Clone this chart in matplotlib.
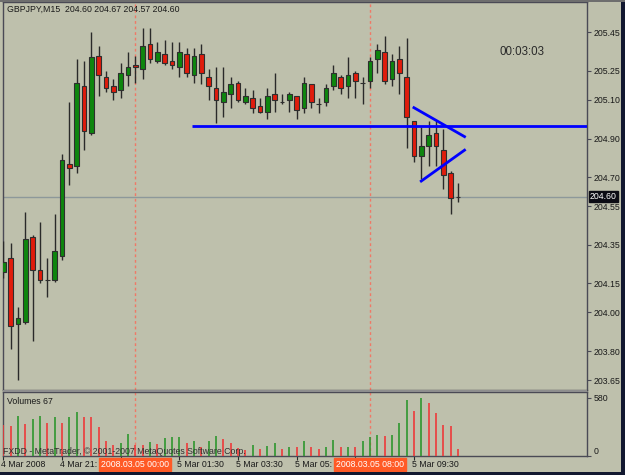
import matplotlib
matplotlib.use('Agg')
import matplotlib.pyplot as plt
from matplotlib.patches import Rectangle

W, H = 625, 475

# --- data ---------------------------------------------------------------
header = 'GBPJPY,M15  204.60 204.67 204.57 204.60'
timer_text = '00:03:03'

opens = [204.21, 204.28, 203.94, 203.95, 204.39, 204.22, 204.17, 204.17, 204.29, 204.77,
         204.76, 205.17, 204.93, 205.33, 205.22, 205.17, 205.15, 205.23, 205.28, 205.26,
         205.39, 205.30, 205.34, 205.30, 205.27, 205.34, 205.23, 205.34, 205.22, 205.16,
         205.09, 205.13, 205.19, 205.09, 205.11, 205.07, 205.04, 205.13, 205.09, 205.10,
         205.12, 205.06, 205.18, 205.08, 205.09, 205.17, 205.22, 205.17, 205.24, 205.19,
         205.20, 205.31, 205.35, 205.21, 205.31, 205.22, 204.99, 204.81, 204.86, 204.93,
         204.84, 204.72, 204.60]
highs = [204.37, 204.36, 204.03, 204.52, 204.40, 204.47, 204.28, 204.51, 204.82, 205.09,
         205.31, 205.30, 205.45, 205.38, 205.25, 205.21, 205.29, 205.35, 205.33, 205.47,
         205.47, 205.40, 205.41, 205.40, 205.40, 205.37, 205.37, 205.39, 205.26, 205.27,
         205.27, 205.22, 205.20, 205.16, 205.15, 205.11, 205.16, 205.24, 205.13, 205.14,
         205.12, 205.22, 205.18, 205.11, 205.18, 205.28, 205.23, 205.32, 205.25, 205.22,
         205.32, 205.39, 205.43, 205.34, 205.38, 205.42, 204.99, 204.96, 204.99, 204.99,
         204.95, 204.73, 204.67]
lows = [204.18, 203.81, 203.65, 203.94, 203.85, 204.15, 204.08, 204.16, 204.27, 204.66,
        204.72, 204.84, 204.92, 205.12, 205.14, 205.10, 205.11, 205.17, 205.19, 205.21,
        205.29, 205.29, 205.28, 205.26, 205.22, 205.22, 205.19, 205.18, 205.10, 204.98,
        205.01, 205.06, 205.09, 205.08, 205.03, 205.03, 205.00, 205.04, 205.08, 205.04,
        205.00, 205.03, 205.06, 205.03, 205.07, 205.15, 205.13, 205.11, 205.11, 205.08,
        205.16, 205.24, 205.18, 205.17, 205.13, 204.85, 204.78, 204.69, 204.76, 204.76,
        204.64, 204.51, 204.57]
closes = [204.26, 203.93, 203.97, 204.38, 204.22, 204.17, 204.17, 204.32, 204.79, 204.75,
          205.19, 204.94, 205.32, 205.23, 205.16, 205.14, 205.24, 205.27, 205.27, 205.38,
          205.31, 205.35, 205.29, 205.28, 205.35, 205.24, 205.33, 205.24, 205.17, 205.10,
          205.14, 205.18, 205.10, 205.12, 205.06, 205.04, 205.12, 205.10, 205.09, 205.13,
          205.05, 205.19, 205.09, 205.08, 205.16, 205.24, 205.16, 205.23, 205.20, 205.19,
          205.30, 205.36, 205.20, 205.30, 205.24, 205.01, 204.81, 204.86, 204.92, 204.86,
          204.71, 204.59, 204.60]
volumes = [308, 302, 399, 315, 372, 399, 332, 389, 332, 392,
           439, 389, 388, 288, 145, 111, 124, 214, 110, 104,
           139, 118, 178, 185, 191, 124, 152, 90, 152, 197,
           163, 124, 77, 59, 111, 69, 93, 132, 69, 83,
           83, 145, 83, 69, 90, 155, 83, 90, 90, 152,
           186, 204, 197, 204, 329, 560, 449, 580, 527, 429,
           308, 296, 67]

price_ticks = [205.45, 205.25, 205.10, 204.90, 204.70, 204.55,
               204.35, 204.15, 204.00, 203.80, 203.65]
volume_ticks = [0, 580]
time_tick_bars = [0, 8, 16, 24, 32, 40, 48, 56]
# labels as they show; the ones under the highlighted boxes are cut off
time_label_bars = [0, 8, 24, 32, 40, 56]
time_labels = ['4 Mar 2008', '4 Mar 21:', '5 Mar 01:30', '5 Mar 03:30',
               '5 Mar 05:', '5 Mar 09:30']
separator_bars = [18, 50]
separator_labels = ['2008.03.05 00:00', '2008.03.05 08:00']

bid = 204.60
level_price = 204.965
level_start = 25.8
trend_upper_x, trend_upper_y = [56.0, 62.9], [205.06, 204.91]
trend_lower_x, trend_lower_y = [57.0, 62.9], [204.68, 204.84]

# --- style ----------------------------------------------------------------
BG = '#bec0ac'
BULL = '#0e860e'
BEAR = '#e01c0c'
plt.rcParams['font.family'] = ['Liberation Sans', 'DejaVu Sans']
FS = 6.3
XLIM = (-0.1, 79.6)


def box(left, top, right, bottom):
    return [left / W, 1 - bottom / H, (right - left) / W, (bottom - top) / H]


fig = plt.figure(figsize=(W / 100, H / 100), dpi=100)
fig.patch.set_facecolor(BG)

ax = fig.add_axes(box(2.5, 2, 587, 389.5))
axv = fig.add_axes(box(2.5, 392, 587, 455.7))
for a in (ax, axv):
    a.set_facecolor(BG)
    a.set_xlim(*XLIM)
    for s in a.spines.values():
        s.set_color('#4a4a55')
        s.set_linewidth(1)

idx = list(range(len(opens)))

# --- candles --------------------------------------------------------------
ax.vlines(idx, lows, highs, color='#2a2a2a', lw=1, zorder=3)
bottoms = [min(o, c) for o, c in zip(opens, closes)]
heights = [abs(c - o) for o, c in zip(opens, closes)]
cols = [BULL if c > o else BEAR for o, c in zip(opens, closes)]
ax.bar(idx, heights, bottom=bottoms, width=0.64, color=cols,
       edgecolor='#2e2e2e', linewidth=0.8, zorder=4)

ax.axhline(bid, color='#8d989a', lw=1, zorder=1)
ax.hlines(level_price, level_start, XLIM[1], color='#0000ff', lw=2, zorder=5)
ax.plot(trend_upper_x, trend_upper_y, color='#0000ff', lw=2, zorder=5)
ax.plot(trend_lower_x, trend_lower_y, color='#0000ff', lw=2, zorder=5)

for b in separator_bars:
    for a in (ax, axv):
        a.axvline(b, color='#f07866', lw=1, ls=(0, (2, 2)), zorder=2)

ax.set_ylim(203.601, 205.607)
ax.set_xticks([])
ax.yaxis.tick_right()
ax.set_yticks(price_ticks)
ax.set_yticklabels([f'{p:.2f}' for p in price_ticks])
ax.tick_params(axis='y', direction='out', length=3, width=0.8, pad=2,
               labelsize=FS, colors='#4a4a55', labelcolor='#1a1a1a')

ax.annotate(f'{bid:.2f}', xy=(1, bid), xycoords=('axes fraction', 'data'),
            xytext=(3, 0), textcoords='offset pixels', ha='left', va='center',
            color='white', fontsize=FS, annotation_clip=False, zorder=10,
            bbox=dict(boxstyle='square,pad=0.12', fc='#0c0c14', ec='#0c0c14'))

# --- volumes --------------------------------------------------------------
vcols = ['#ee3a3a'] + ['#2f962f' if volumes[i] > volumes[i - 1] else '#ee3a3a'
                       for i in range(1, len(volumes))]
axv.vlines(idx, 0, volumes, colors=vcols, lw=1.2, zorder=3)
axv.set_ylim(0, 640)
axv.yaxis.tick_right()
axv.set_yticks(volume_ticks)
axv.set_yticklabels([str(v) for v in volume_ticks])
axv.tick_params(axis='y', direction='out', length=3, width=0.8, pad=2,
                labelsize=FS, colors='#4a4a55', labelcolor='#1a1a1a')
axv.get_yticklabels()[0].set_verticalalignment('bottom')

axv.set_xticks(time_tick_bars)
axv.set_xticklabels([])
axv.tick_params(axis='x', direction='out', length=3, width=0.8, colors='#2a2a2a')
for b, lab in zip(time_label_bars, time_labels):
    axv.annotate(lab, xy=(b, 0), xycoords=('data', 'axes fraction'),
                 xytext=(-2, -8.5), textcoords='offset pixels', ha='left',
                 va='center', fontsize=FS, color='#1a1a1a', annotation_clip=False)
for b, lab in zip(separator_bars, separator_labels):
    axv.annotate(lab, xy=(b, 0), xycoords=('data', 'axes fraction'),
                 xytext=(0, -8.5), textcoords='offset pixels', ha='center',
                 va='center', fontsize=FS, color='white', annotation_clip=False,
                 zorder=10,
                 bbox=dict(boxstyle='square,pad=0.22', fc='#ff5a26', ec='#ff5a26'))

# --- texts ----------------------------------------------------------------
fig.text(7 / W, 1 - 9 / H, header, fontsize=FS, va='center', color='#1a1a1a')
fig.text(500 / W, 1 - 51.7 / H, timer_text, fontsize=8.3, va='center', color='#2a2a2a')
fig.text(7 / W, 1 - 402 / H, 'Volumes 67', fontsize=FS, va='center', color='#1a1a1a')
fig.text(3 / W, 1 - 452 / H,
         'FXDD - MetaTrader, \u00a9 2001-2007 MetaQuotes Software Corp.',
         fontsize=FS, va='center', color='#303030')

# window frame and panel separator
fig.patches.append(Rectangle((2.5 / W, 1 - 392 / H), 584.5 / W, 2.5 / H,
                             transform=fig.transFigure, fc='#8e8e8e', ec='none'))
fig.patches.append(Rectangle((0, 0), 1, 3.5 / H, transform=fig.transFigure,
                             fc='#121830', ec='none'))
fig.patches.append(Rectangle((621 / W, 0), 4 / W, 1, transform=fig.transFigure,
                             fc='#121830', ec='none'))
fig.patches.append(Rectangle((0, 1 - 1.5 / H), 1, 1.5 / H, transform=fig.transFigure,
                             fc='#6e6e6e', ec='none'))

fig.savefig('out.png', dpi=100, facecolor=BG)
